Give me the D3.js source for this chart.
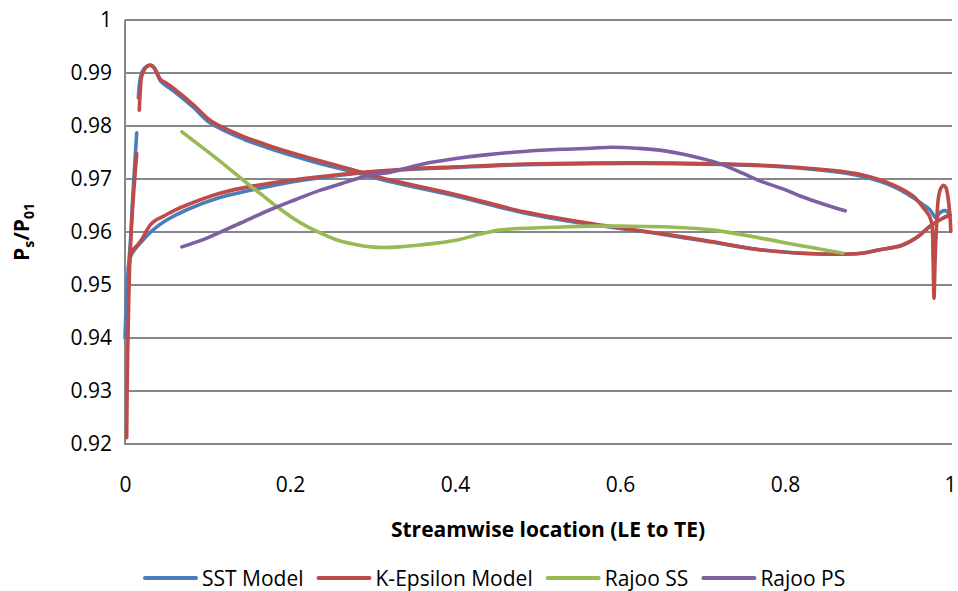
<!DOCTYPE html>
<html>
<head>
<meta charset="utf-8">
<script src="https://cdn.jsdelivr.net/npm/d3@7"></script>
<style>
  html, body { margin: 0; padding: 0; background: #ffffff; }
  svg { display: block; }
  text { font-family: "Open Sans", "Noto Sans", sans-serif; fill: #000; }
</style>
</head>
<body>
<svg id="chart" width="958" height="591"></svg>
<script>
// ---------- data ----------
const seriesNames = ["SST Model", "K-Epsilon Model", "Rajoo SS", "Rajoo PS"];
const xTicks = [0, 0.2, 0.4, 0.6, 0.8, 1];
const xTickLabels = ["0", "0.2", "0.4", "0.6", "0.8", "1"];
const yTicks = [0.92, 0.93, 0.94, 0.95, 0.96, 0.97, 0.98, 0.99, 1];
const yTickLabels = ["0.92", "0.93", "0.94", "0.95", "0.96", "0.97", "0.98", "0.99", "1"];

// SST Model (three drawn pieces)
const sstStem = [[0.0,0.940],[0.002,0.948],[0.004,0.953],[0.0065,0.958],[0.009,0.9655],[0.0115,0.972],[0.0142,0.9787]];
const sstLower = [[0.004,0.953],[0.007,0.9555],[0.010,0.9563],[0.016,0.9575],[0.025,0.959],[0.034,0.9604],[0.05,0.9622],[0.075,0.9642],[0.115,0.9665],[0.156,0.968],[0.217,0.9698],[0.277,0.971],[0.334,0.9717],[0.403,0.9722],[0.484,0.9727],[0.565,0.9729],[0.662,0.9729],[0.772,0.9725],[0.853,0.9715],[0.893,0.9705],[0.931,0.9686],[0.955,0.9665],[0.967,0.9652],[0.975,0.9643],[0.980,0.9632],[0.983,0.9626],[0.986,0.9633],[0.990,0.9639],[0.995,0.964],[1.0,0.9632]];
const sstUpper = [[0.0162,0.9853],[0.018,0.9885],[0.021,0.9903],[0.026,0.9912],[0.031,0.9914],[0.035,0.991],[0.039,0.9898],[0.043,0.9885],[0.05,0.9876],[0.059,0.9866],[0.083,0.9835],[0.103,0.9806],[0.144,0.9775],[0.184,0.9753],[0.225,0.9734],[0.277,0.9713],[0.322,0.9695],[0.403,0.9667],[0.484,0.9636],[0.565,0.9614],[0.65,0.9596],[0.711,0.9581],[0.772,0.9566],[0.853,0.9558],[0.893,0.956],[0.913,0.9566],[0.942,0.9575],[0.96,0.959],[0.975,0.961],[0.99,0.9625],[1.0,0.9632]];

// K-Epsilon Model (three drawn pieces)
const kepStem = [[0.002,0.9212],[0.003,0.935],[0.0045,0.947],[0.006,0.955],[0.009,0.964],[0.0142,0.9748]];
const kepLower = [[0.006,0.955],[0.009,0.9565],[0.015,0.9575],[0.021,0.9588],[0.026,0.9602],[0.031,0.9614],[0.038,0.9623],[0.047,0.963],[0.06,0.9641],[0.075,0.9651],[0.115,0.9673],[0.156,0.9687],[0.217,0.9701],[0.277,0.9711],[0.334,0.9718],[0.403,0.9723],[0.484,0.9728],[0.565,0.973],[0.662,0.973],[0.772,0.9726],[0.853,0.9717],[0.893,0.9708],[0.931,0.9689],[0.955,0.9668],[0.967,0.9647],[0.975,0.963],[0.978,0.9615],[0.9795,0.955],[0.9806,0.9475],[0.982,0.955],[0.984,0.962],[0.986,0.9665],[0.989,0.9683],[0.992,0.9688],[0.995,0.9684],[0.998,0.966],[1.0,0.9629],[1.001,0.9601]];
const kepUpper = [[0.0173,0.983],[0.0185,0.9865],[0.020,0.9892],[0.023,0.9905],[0.027,0.9913],[0.031,0.9915],[0.035,0.9911],[0.039,0.99],[0.043,0.9888],[0.05,0.9881],[0.059,0.9871],[0.083,0.984],[0.103,0.9811],[0.144,0.978],[0.184,0.9758],[0.225,0.9739],[0.277,0.9717],[0.322,0.9698],[0.403,0.967],[0.484,0.9638],[0.565,0.9616],[0.65,0.9597],[0.711,0.9582],[0.772,0.9566],[0.853,0.9558],[0.893,0.956],[0.913,0.9566],[0.942,0.9575],[0.96,0.959],[0.975,0.961],[0.99,0.9625],[1.0,0.9632]];

// Rajoo SS
const rajooSS = [[0.069,0.9789],[0.1,0.9752],[0.13,0.9715],[0.148,0.9692],[0.166,0.967],[0.184,0.9648],[0.202,0.9628],[0.221,0.961],[0.24,0.9596],[0.257,0.9585],[0.278,0.9577],[0.298,0.9572],[0.322,0.9571],[0.36,0.9576],[0.403,0.9585],[0.43,0.9596],[0.456,0.9604],[0.484,0.9607],[0.52,0.9609],[0.565,0.9611],[0.6,0.9611],[0.65,0.961],[0.711,0.9604],[0.772,0.9588],[0.82,0.9574],[0.87,0.956]];
// Rajoo PS
const rajooPS = [[0.069,0.9572],[0.1,0.9589],[0.14,0.9617],[0.176,0.9642],[0.205,0.966],[0.237,0.9679],[0.27,0.9695],[0.298,0.9708],[0.322,0.9713],[0.36,0.9728],[0.403,0.9739],[0.44,0.9746],[0.484,0.9752],[0.53,0.9756],[0.565,0.9758],[0.59,0.976],[0.62,0.9758],[0.65,0.9754],[0.685,0.9744],[0.719,0.973],[0.75,0.971],[0.772,0.9695],[0.8,0.968],[0.82,0.9667],[0.848,0.9652],[0.873,0.964]];

const seriesColors = ["#4A7EBB", "#BE4B48", "#98B954", "#7D60A0"];

// ---------- drawing ----------
(function () {
  const svg = d3.select("#chart");
  const mLeft = 125, mRight = 950, mTop = 20, mBottom = 444;
  const x = d3.scaleLinear().domain([0, 1]).range([mLeft, mRight]);
  const y = d3.scaleLinear().domain([0.92, 1]).range([mBottom, mTop]);

  const gridColor = "#878787";

  svg.append("g").selectAll("line").data(yTicks).join("line")
    .attr("x1", mLeft).attr("x2", mRight + 2)
    .attr("y1", d => y(d)).attr("y2", d => y(d))
    .attr("stroke", gridColor).attr("stroke-width", 2);

  svg.append("line").attr("x1", mLeft).attr("x2", mLeft)
    .attr("y1", mTop).attr("y2", mBottom + 1)
    .attr("stroke", gridColor).attr("stroke-width", 2);

  const yAxis = d3.axisLeft(y).tickValues(yTicks).tickSize(0).tickPadding(13)
    .tickFormat((d, i) => yTickLabels[i]);
  const gy = svg.append("g").attr("transform", `translate(${mLeft},0)`).call(yAxis);
  gy.select(".domain").remove();
  gy.selectAll("text").attr("font-size", 21).attr("font-family", "Open Sans").attr("fill", "#000");

  const xAxis = d3.axisBottom(x).tickValues(xTicks).tickSize(0).tickPadding(33)
    .tickFormat((d, i) => xTickLabels[i]);
  const gx = svg.append("g").attr("transform", `translate(0,${mBottom})`).call(xAxis);
  gx.select(".domain").remove();
  gx.selectAll("text").attr("font-size", 21).attr("font-family", "Open Sans").attr("fill", "#000");

  const line = d3.line().x(d => x(d[0])).y(d => y(d[1])).curve(d3.curveCatmullRom.alpha(0.5));
  const pieces = [
    [sstStem, 0], [sstLower, 0], [sstUpper, 0],
    [kepStem, 1], [kepLower, 1], [kepUpper, 1],
    [rajooSS, 2], [rajooPS, 3]
  ];
  const gLines = svg.append("g");
  pieces.forEach(([pts, si]) => {
    gLines.append("path").attr("d", line(pts))
      .attr("fill", "none").attr("stroke", seriesColors[si])
      .attr("stroke-width", 3.6).attr("stroke-linecap", "round").attr("stroke-linejoin", "round");
  });

  svg.append("text").attr("x", 548).attr("y", 537).attr("text-anchor", "middle")
    .attr("font-size", 21).attr("font-weight", "bold")
    .text("Streamwise location (LE to TE)");

  const yt = svg.append("text").attr("transform", "translate(29,232) rotate(-90)")
    .attr("text-anchor", "middle").attr("font-size", 21).attr("font-weight", "bold");
  yt.append("tspan").text("P");
  yt.append("tspan").attr("font-size", 14).attr("dy", 5).text("s");
  yt.append("tspan").attr("dy", -5).text("/P");
  yt.append("tspan").attr("font-size", 14).attr("dy", 5).text("01");

  const lg = svg.append("g");
  let cx = 143;
  seriesNames.forEach((name, i) => {
    lg.append("line").attr("x1", cx + 2).attr("x2", cx + 53).attr("y1", 578).attr("y2", 578)
      .attr("stroke", seriesColors[i]).attr("stroke-width", 4).attr("stroke-linecap", "round");
    const t = lg.append("text").attr("x", cx + 59).attr("y", 586).attr("font-size", 21).text(name);
    cx += 59 + t.node().getComputedTextLength() + 13;
  });
})();
</script>
</body>
</html>
